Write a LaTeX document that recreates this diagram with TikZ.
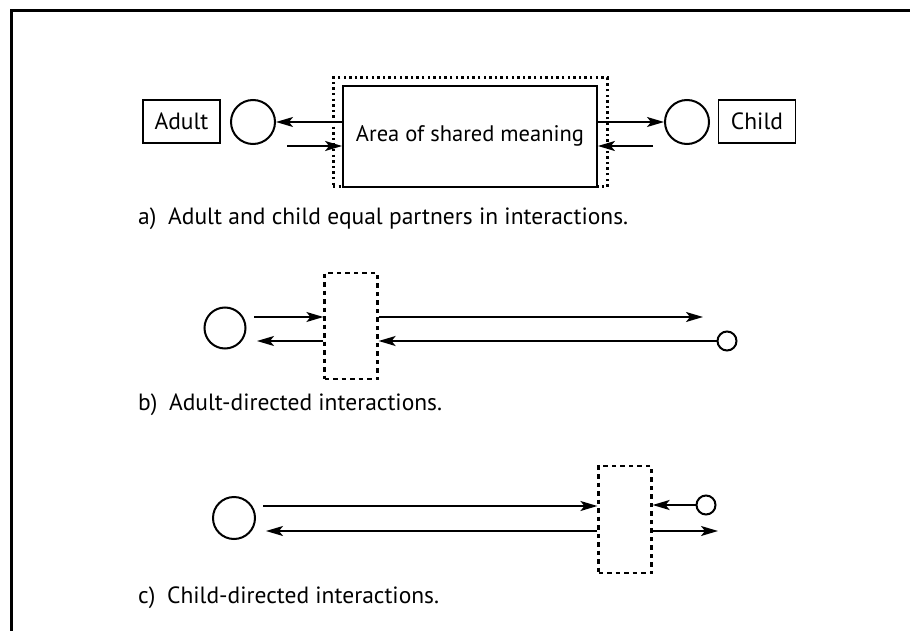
\documentclass[tikz,border=0pt]{standalone}
\usepackage{fontspec}
\setmainfont{PT Sans}
\usetikzlibrary{arrows.meta}
\begin{document}
\begin{tikzpicture}[x=1pt,y=-1pt,
  every node/.style={font=\fontsize{23.5}{28}\selectfont},
  namebox/.style={draw,line width=1.8pt,minimum width=77pt,minimum height=43pt,inner sep=0pt},
  person/.style={draw,circle,line width=2pt,inner sep=0pt,minimum size=#1},
  area/.style={draw,line width=1.8pt,inner sep=0pt},
  dotframe/.style={draw,line width=3pt,dash pattern=on 2.4pt off 3.2pt,inner sep=0pt},
  dashframe/.style={draw,line width=2.2pt,dash pattern=on 4.5pt off 4pt,inner sep=0pt,minimum width=53pt},
  arr/.style={line width=1.6pt,-{Stealth[length=17pt,width=10pt,inset=4pt]}},
  caption/.style={anchor=west,inner sep=0pt}]
\useasboundingbox (0,0) rectangle (910,631);
% outer frame
\draw[line width=3pt] (910,11) -- (11,11) -- (11,631);

% a) equal partners
\node[namebox] (adult) at (181.5,121.5) {Adult};
\node[person=44pt] (acirc) at (253,122) {};
\node[dotframe,minimum width=274pt,minimum height=109pt] (areaframe) at (470,132.5) {};
\node[area,minimum width=254pt,minimum height=101pt,fill=white] (shared) at (470,136.5) {};
\node[font=\fontsize{22.5}{27}\selectfont] (sharedlabel) at (470,136) {Area of shared meaning};
\node[person=44pt] (ccirc) at (687,122) {};
\node[namebox] (child) at (757,121.5) {Child};
\coordinate (ain) at (287,146);
\coordinate (cin) at (653,146);
\draw[arr] (shared.west |- acirc.center) -- (acirc.east);
\draw[arr] (ain) -- (ain -| shared.west);
\draw[arr] (shared.east |- ccirc.center) -- (ccirc.west);
\draw[arr] (cin) -- (cin -| shared.east);
\node[caption] (capa) at (138,219) {a)\hspace{0.5em}Adult and child equal partners in interactions.};

% b) adult-directed
\node[person=41pt] (bbig) at (225,328) {};
\node[dashframe,minimum height=106pt] (bbox) at (351,326) {};
\node[person=19pt] (bsmall) at (727,341) {};
\coordinate (bout) at (254,317);
\coordinate (bend) at (703,317);
\coordinate (bback) at (257,341);
\draw[arr] (bout) -- (bout -| bbox.west);
\draw[arr] (bbox.east |- bend) -- (bend);
\draw[arr] (bsmall.west) -- (bsmall.west -| bbox.east);
\draw[arr] (bback -| bbox.west) -- (bback);
\node[caption] (capb) at (138,405) {b)\hspace{0.5em}Adult-directed interactions.};

% c) child-directed
\node[person=42pt] (cbig) at (234,518) {};
\node[dashframe,minimum height=107pt] (cbox) at (625,519.5) {};
\node[person=19pt] (csmall) at (706,505) {};
\coordinate (cout) at (263,506);
\coordinate (cback) at (266,531);
\coordinate (cend) at (718,531);
\draw[arr] (cout) -- (cout -| cbox.west);
\draw[arr] (cback -| cbox.west) -- (cback);
\draw[arr] (csmall.west) -- (csmall.west -| cbox.east);
\draw[arr] (cbox.east |- cend) -- (cend);
\node[caption] (capc) at (138,598) {c)\hspace{0.5em}Child-directed interactions.};
\end{tikzpicture}
\end{document}
